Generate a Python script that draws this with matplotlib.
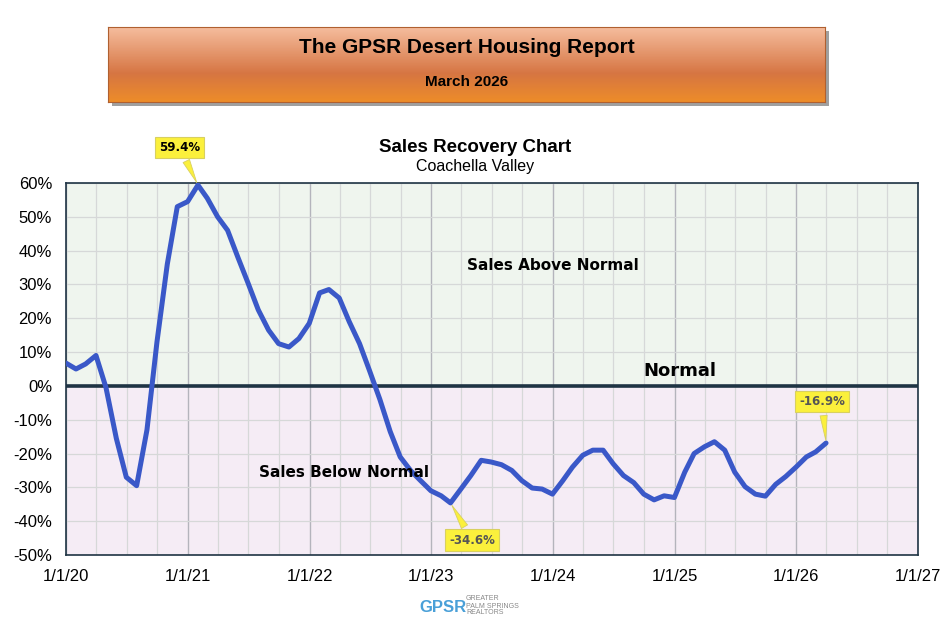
import matplotlib
matplotlib.use("Agg")
import matplotlib.pyplot as plt
import numpy as np
import pandas as pd

# ---- data ----
dates = pd.date_range("2019-12-31", periods=76, freq="ME")
values = [6.8, 5.0, 6.5, 9.0, -0.5, -15.5, -27.0, -29.5, -13.0, 13.0, 36.0, 53.0,
          54.5, 59.4, 55.5, 50.0, 46.0, 38.0, 30.5, 22.5, 16.5, 12.5, 11.5, 14.0,
          18.5, 27.5, 28.5, 26.0, 19.0, 12.5, 4.5, -4.0, -13.5, -21.0, -25.0, -28.0,
          -31.0, -32.5, -34.6, -30.5, -26.5, -22.0, -22.5, -23.3, -25.0, -28.0, -30.2, -30.5,
          -32.0, -28.0, -24.0, -20.5, -19.0, -19.0, -23.0, -26.5, -28.6, -32.0, -33.7, -32.5,
          -33.0, -25.5, -20.0, -18.0, -16.5, -19.0, -25.5, -29.8, -32.0, -32.6, -29.1, -26.8,
          -24.0, -21.0, -19.5, -16.9]
year_ticks = pd.date_range("2020-01-01", "2027-01-01", freq="YS")
year_labels = ["1/1/20", "1/1/21", "1/1/22", "1/1/23", "1/1/24", "1/1/25", "1/1/26", "1/1/27"]
y_ticks = list(range(-50, 61, 10))
callouts = [(13, "59.4%", "black"), (38, "-34.6%", "#555555"), (75, "-16.9%", "#555555")]

FONT = "Liberation Sans"
fig = plt.figure(figsize=(9.53, 6.25), dpi=100)

# ---- header banner ----
hx0, hy0, hw, hh = 108/953, 1-102/625, 717/953, 75/625
sh = fig.add_axes([hx0+0.004, hy0-0.006, hw, hh])
sh.set_facecolor("#a0a0a0"); sh.set_xticks([]); sh.set_yticks([])
for s in sh.spines.values(): s.set_visible(False)
hb = fig.add_axes([hx0, hy0, hw, hh])
top = np.array([0.96, 0.74, 0.62]); mid = np.array([0.84, 0.46, 0.26]); bot = np.array([0.93, 0.55, 0.16])
n = 100
grad = np.zeros((n, 1, 3))
for i in range(n):
    f = i / (n - 1)
    if f < 0.62:
        c = top + (mid - top) * (f / 0.62)
    else:
        c = mid + (bot - mid) * ((f - 0.62) / 0.38)
    grad[i, 0] = c
hb.imshow(grad, aspect="auto", extent=[0, 1, 0, 1], origin="upper")
hb.set_xlim(0, 1); hb.set_ylim(0, 1)
hb.set_xticks([]); hb.set_yticks([])
for s in hb.spines.values():
    s.set_color("#b06030"); s.set_linewidth(0.8)
hb.text(0.5, 0.733, "The GPSR Desert Housing Report", ha="center", va="center",
        fontsize=15, fontweight="bold", family=FONT, color="black")
hb.text(0.5, 0.27, "March 2026", ha="center", va="center",
        fontsize=11, fontweight="bold", family=FONT, color="black")

# ---- main chart ----
ax = fig.add_axes([66/953, 1-555/625, (918-66)/953, (555-183)/625])
ax.set_xlim(year_ticks[0], year_ticks[-1])
ax.set_ylim(-50, 60)
ax.axhspan(0, 60, color="#eff5ee", zorder=0)
ax.axhspan(-50, 0, color="#f5ecf5", zorder=0)

quarters = pd.date_range("2020-01-01", "2027-01-01", freq="QS")
for q in quarters:
    if q.month == 1:
        ax.axvline(q, color="#b4b4bc", lw=1.0, zorder=1)
    else:
        ax.axvline(q, color="#d6d8d8", lw=0.9, zorder=1)
for yv in y_ticks:
    ax.axhline(yv, color="#d6d8d8", lw=0.9, zorder=1)
ax.axhline(0, color="#1f3444", lw=2.6, zorder=2)

ax.plot(dates, values, color="#3a58c8", lw=3.6, solid_joinstyle="round",
        solid_capstyle="round", zorder=3)

ax.set_xticks(year_ticks)
ax.set_xticklabels(year_labels)
ax.set_yticks(y_ticks)
ax.set_yticklabels([f"{v}%" for v in y_ticks])
ax.tick_params(axis="y", length=0, labelsize=12, pad=10)
ax.tick_params(axis="x", length=0, labelsize=12, pad=10)
for lab in ax.get_xticklabels() + ax.get_yticklabels():
    lab.set_family(FONT)
for s in ax.spines.values():
    s.set_color("#1f3444"); s.set_linewidth(1.2)

fig.text(475/953, 1-147/625, "Sales Recovery Chart", ha="center",
         va="center", fontsize=13.5, fontweight="bold", family=FONT)
fig.text(475/953, 1-166/625, "Coachella Valley", ha="center",
         va="center", fontsize=11.5, family=FONT)

ax.text(pd.Timestamp("2024-01-01"), 35.5, "Sales Above Normal", ha="center", va="center",
        fontsize=11, fontweight="bold", family="DejaVu Sans", zorder=4)
ax.text(pd.Timestamp("2025-01-15"), 4.4, "Normal", ha="center", va="center",
        fontsize=13, fontweight="bold", family="DejaVu Sans", zorder=4)
ax.text(pd.Timestamp("2022-04-15"), -25.7, "Sales Below Normal", ha="center", va="center",
        fontsize=11, fontweight="bold", family="DejaVu Sans", zorder=4)

# callouts
offsets = {13: (-0.15, 70.5), 38: (0.18, -45.6), 75: (-0.03, -4.7)}
for idx, txt, col in callouts:
    d = dates[idx]
    dx, yv = offsets[idx]
    tx = d + pd.Timedelta(days=365 * dx)
    ax.annotate(txt, xy=(d, values[idx]), xytext=(tx, yv), textcoords="data",
                ha="center", va="center", fontsize=8.5, fontweight="bold",
                family="DejaVu Sans", color=col, annotation_clip=False, zorder=6,
                bbox=dict(boxstyle="square,pad=0.35", fc="#fbf03c", ec="#d8d060", lw=0.8),
                arrowprops=dict(arrowstyle="wedge,tail_width=0.6,shrink_factor=0.5",
                                fc="#fbf03c", ec="#d8d060", lw=0.6))

# logo
fig.text(443/953, 1-608/625, "GPSR", fontsize=12, fontweight="bold", color="#4aa0d8",
         family=FONT, ha="center", va="center")
fig.text(466/953, 1-606/625, "GREATER\nPALM SPRINGS\nREALTORS", fontsize=5,
         color="#888888", family=FONT, ha="left", va="center", linespacing=1.0)

fig.savefig("out.png", dpi=100)
